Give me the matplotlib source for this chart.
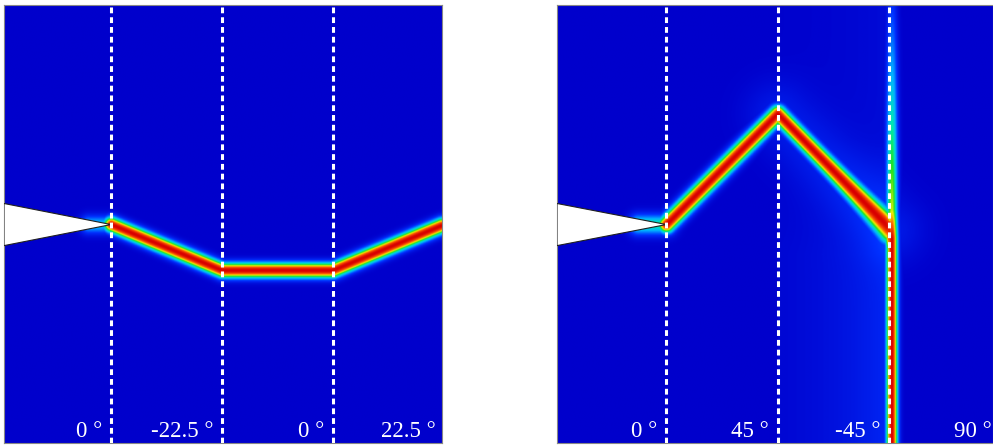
import numpy as np
import matplotlib.pyplot as plt
from matplotlib.colors import LinearSegmentedColormap
from matplotlib.patches import Polygon

# PLY ANGLES (label under each layer)
left_angles = ["0 °", "-22.5 °", "0 °", "22.5 °"]
right_angles = ["0 °", "45 °", "-45 °", "90 °"]

# CRACK PATHS (x, y in layer widths)
left_crack_x = [1.0, 2.0, 3.0, 3.98]
left_crack_y = [1.97, 1.556, 1.556, 1.96]

right_crack_x = [1.0, 2.0, 3.02]
right_crack_y = [1.97, 2.97, 1.92]

# vertical crack in the 90 deg ply, damage level along its height
vert_x = 3.025
vert_y = [0.0, 1.85, 2.1, 3.0, 3.95]
vert_amp = [1.0, 1.0, 0.66, 0.42, 0.14]

NOTCH_TIP_Y = 1.97
NOTCH_HALF = 0.19

cmap = LinearSegmentedColormap.from_list("pf", [
    (0.00, "#0000cc"),
    (0.15, "#0030ff"),
    (0.32, "#00b4ff"),
    (0.45, "#00e8b0"),
    (0.55, "#20e020"),
    (0.68, "#f0f000"),
    (0.82, "#ff6000"),
    (1.00, "#d80000"),
])


def seg_param(X, Y, x0, y0, x1, y1):
    dx, dy = x1 - x0, y1 - y0
    t = ((X - x0) * dx + (Y - y0) * dy) / (dx * dx + dy * dy)
    t = np.clip(t, 0, 1)
    return t, np.hypot(X - (x0 + t * dx), Y - (y0 + t * dy))


def crack_field(X, Y, xs, ys, w, amp=1.0):
    d = np.zeros_like(X)
    for i in range(len(xs) - 1):
        _, r = seg_param(X, Y, xs[i], ys[i], xs[i + 1], ys[i + 1])
        d = np.maximum(d, amp * np.exp(-(r / w) ** 2))
    return d


def draw_panel(ax, xlim, ylim, field, labels):
    ax.imshow(field, extent=[xlim[0], xlim[1], ylim[0], ylim[1]], origin="lower",
              cmap=cmap, vmin=0, vmax=1, interpolation="bilinear", aspect="auto")
    notch = Polygon([[xlim[0], NOTCH_TIP_Y + NOTCH_HALF], [1.0, NOTCH_TIP_Y],
                     [xlim[0], NOTCH_TIP_Y - NOTCH_HALF]],
                    closed=True, facecolor="white", edgecolor="#202020", lw=0.8, zorder=3)
    ax.add_patch(notch)
    for xb in [1, 2, 3]:
        ax.axvline(xb, color="white", lw=2.2, dashes=(1.9, 1.3), zorder=4)
    for i, lab in enumerate(labels):
        ax.text(i + 0.92, 0.05, lab, color="white", fontsize=16.5,
                family="Liberation Serif", ha="right", va="baseline", zorder=5)
    ax.set_xlim(*xlim)
    ax.set_ylim(*ylim)
    ax.set_xticks([])
    ax.set_yticks([])
    for s in ax.spines.values():
        s.set_color("#888888")
        s.set_linewidth(0.8)


# MAIN
W, H = 993, 448
fig = plt.figure(figsize=(W / 100, H / 100), dpi=100)

ylim = (0.0, 3.95)

# LEFT PANEL
xl = (0.035, 3.98)
ax1 = fig.add_axes([4 / W, 5 / H, 438 / W, 438 / H])
X, Y = np.meshgrid(np.linspace(*xl, 700), np.linspace(*ylim, 700))
f1 = crack_field(X, Y, left_crack_x, left_crack_y, 0.068)
f1 = np.maximum(f1, crack_field(X, Y, [0.8, 1.0], [NOTCH_TIP_Y, NOTCH_TIP_Y], 0.08, 0.35))
draw_panel(ax1, xl, ylim, f1, left_angles)

# RIGHT PANEL
xr = (0.018, 3.93)
ax2 = fig.add_axes([557 / W, 5 / H, 436 / W, 438 / H])
X, Y = np.meshgrid(np.linspace(*xr, 700), np.linspace(*ylim, 700))
f2 = crack_field(X, Y, right_crack_x[:2], right_crack_y[:2], 0.075)
# -45 ply: band widens as it reaches the 90 ply, stops at the interface
t, r = seg_param(X, Y, right_crack_x[1], right_crack_y[1], right_crack_x[2], right_crack_y[2])
wv = 0.075 + 0.04 * t ** 3
cut = 1 / (1 + np.exp((X - 3.02) / 0.01))
f2 = np.maximum(f2, np.exp(-(r / wv) ** 2) * cut)
f2 = np.maximum(f2, crack_field(X, Y, [0.75, 1.0], [NOTCH_TIP_Y, NOTCH_TIP_Y], 0.09, 0.45))
amp = np.interp(Y, vert_y, vert_amp)
f2 = np.maximum(f2, amp * np.exp(-((X - vert_x) / 0.05) ** 2))
# red tail on the left face of the 90 ply just below the junction
tail = 0.95 * np.exp(-((X - 3.0) / 0.035) ** 2) * np.exp(-(np.clip(1.9 - Y, 0, None) / 0.2) ** 2) * (Y < 2.0)
f2 = np.maximum(f2, tail)
# diffuse damage haze in the -45 ply
haze = 0.13 * np.exp(-np.abs(X - vert_x) / 0.6) * (X > 2.0) * (X < vert_x)
haze *= np.clip((3.2 - Y) / 1.5, 0.3, 1)
_, rd = seg_param(X, Y, 2.0, 2.97, 3.02, 1.92)
haze += 0.08 * np.exp(-(rd / 0.3) ** 2)
f2 = np.maximum(f2, haze)
draw_panel(ax2, xr, ylim, f2, right_angles)

fig.savefig("out.png", dpi=100)
